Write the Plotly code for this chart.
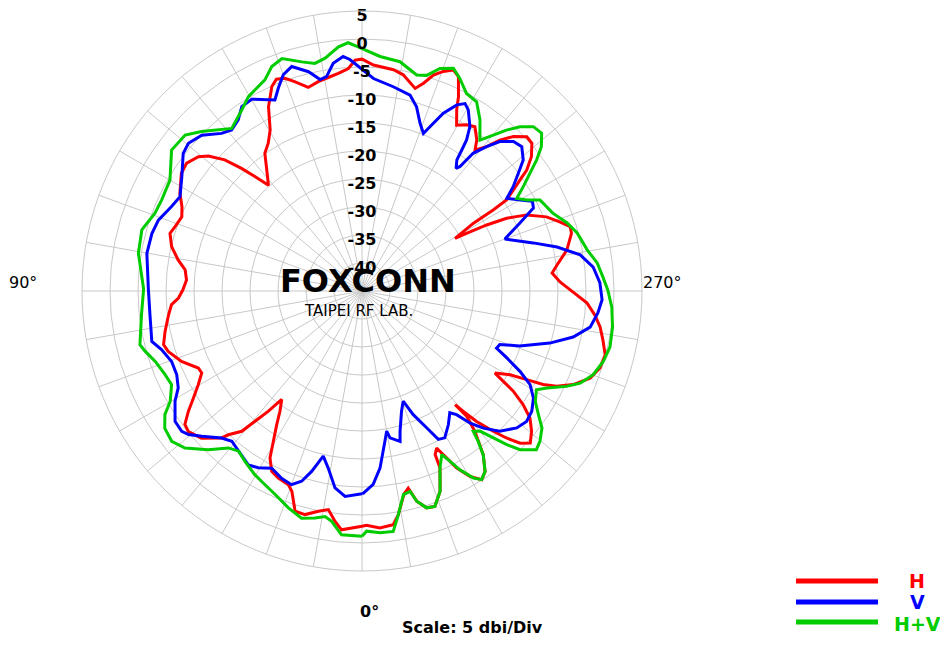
import plotly.graph_objects as go

# ---------------- data (angle in degrees, gain in dBi) ----------------
h_theta = [0, 4.9, 6.7, 8.75, 11.2, 14.3, 16.9, 19.3, 20.8, 24.1, 26.6, 28.85, 30.5, 32.55, 34.3,
           36.5, 37.9, 39.4, 40.6, 42.9, 43.7, 47.5, 51, 53, 55.3, 57.6, 60.2, 62.9, 64.8, 68.7,
           72.7, 74.9, 78.4, 83, 85.9, 87.8, 90.3, 93.6, 96.8, 99.6, 103.1, 106.7, 109, 112.4,
           115.1, 118.2, 123.1, 126.1, 129.4, 131.3, 133.7, 135.5, 136.9, 138.5, 141.8, 144.8,
           147.6, 150.3, 153.1, 156.2, 158, 160.1, 162.3, 165.2, 168.2, 171, 173.8, 176.5, 178.3,
           180, 182.9, 188.1, 190.8, 194.7, 196.5, 198.3, 200.3, 202.5, 204.2, 206.4, 207.6,
           209.7, 212.2, 214.5, 217.2, 218.7, 220.8, 222.4, 224.4, 226.9, 229, 231.6, 233.7,
           234.9, 236.3, 237.8, 238.3, 238.7, 240.5, 241.1, 242.1, 243.3, 245.2, 248.1, 250.7,
           252.8, 254.6, 258.7, 261.9, 264.6, 267.4, 270.3, 273, 275.9, 278.6, 281.5, 284.7,
           287.9, 290.9, 293.9, 296.1, 297.3, 298.3, 299.5, 301.7, 302.6, 303.5, 305.2, 307.1,
           309.6, 312.1, 313.9, 315.5, 316.9, 318.7, 319.9, 320.7, 320.1, 321.2, 323.5, 325.7,
           327.6, 329.8, 331.9, 333.1, 334.6, 335.9, 336.2, 338.7, 341.3, 343.4, 345.4, 346.8,
           348.3, 350.8, 352.4, 355.7, 358.9, 360]
h_gain = [-3.0, -2.2, -3.6, -5.5, -4.9, -3.8, -3.9, -7.1, -8.0, -8.4, -9.0, -10.95, -13.8, -16.7,
          -19.0, -20.9, -17.8, -14.9, -12.0, -9.95, -8.7, -6.1, -5.1, -5.4, -7.3, -9.35, -11.3,
          -12.85, -12.7, -10.4, -8.75, -8.3, -9.1, -10.2, -10.9, -12.2, -13.0, -13.6, -13.2, -11.7,
          -10.1, -9.2, -9.7, -10.2, -9.5, -8.1, -6.5, -6.25, -7.2, -8.5, -11.1, -14.3, -17.0,
          -19.8, -17.5, -14.9, -13.75, -11.9, -8.1, -5.1, -4.2, -4.6, -5.8, -7.4, -6.8, -6.4,
          -5.9, -5.2, -3.75, -3.6, -4.6, -5.1, -5.7, -7.6, -6.3, -4.4, -3.2, -2.3, -3.0, -6.25,
          -8.5, -10.9, -9.9, -9.4, -11.1, -12.7, -10.95, -8.5, -6.4, -4.7, -4.8, -6.4, -8.5,
          -10.5, -12.5, -14.5, -17.4, -21.7, -25.9, -23.7, -19.8, -16.1, -12.6, -9.5, -7.6,
          -6.1, -6.2, -7.7, -9.6, -10.9, -9.6, -7.3, -4.8, -3.2, -2.0, -1.1, -0.1, -0.35, -1.4,
          -3.75, -6.3, -8.6, -11.6, -14.6, -17.1, -15.05, -12.6, -9.8, -7.4, -5.7, -4.5, -5.8,
          -8.2, -10.7, -14.0, -16.9, -18.75, -15.8, -12.8, -8.6, -6.0, -5.1, -6.7, -9.2,
          -11.55, -13.95, -13.0, -10.5, -6.6, -4.4, -4.6, -6.2, -8.85, -8.0, -4.5, -2.9,
          -2.55, -3.15, -3.0]

v_theta = [0, 4.7, 7.8, 10.8, 13.2, 15.6, 17.6, 20, 23.25, 27.0, 30.4, 33.2, 37.6, 40.9, 43.7,
           47.8, 50.4, 52.1, 55.1, 59.5, 62.2, 65.7, 69.7, 73.7, 76.5, 83.6, 90.5, 99.9, 105.3,
           109.2, 113.9, 117.4, 122.4, 127.6, 130.4, 134.2, 138.3, 141, 144.1, 146.9, 150.1,
           155.5, 157.6, 160, 162.6, 166.3, 168.8, 170.6, 172.8, 175.4, 177, 180, 183.1, 188.7,
           193.8, 196.5, 199.1, 201.3, 202.5, 204.6, 207, 208.8, 210.4, 213.3, 214.7, 215.3,
           215.9, 217.5, 218.2, 218.9, 220.8, 222.7, 225.4, 227.9, 230.9, 233.0, 235.4, 237.4,
           240.1, 242.2, 244.2, 246.7, 250.0, 254.3, 257.3, 260.6, 264.1, 268, 272.1, 275.3,
           279, 282.3, 285.5, 289.2, 291.25, 293, 294.8, 297, 299.1, 302, 305.3, 308.4, 311.5,
           315.5, 318.5, 320.7, 322.6, 324.2, 327.1, 330.6, 332.8, 334.7, 337.5, 339.5, 341.8,
           344.85, 345.8, 349.2, 350, 351.3, 354.2, 356.7, 359.6, 360]
v_gain = [-8.8, -8.2, -9.5, -12.8, -14.7, -11.55, -9.35, -8.2, -8.6, -9.5, -8.4, -7.9, -8.9,
          -9.5, -8.7, -6.4, -4.8, -4.2, -4.3, -6.25, -7.9, -8.7, -8.75, -7.7, -6.4, -6.9, -6.85,
          -6.0, -6.1, -6.5, -7.8, -8.4, -6.9, -4.7, -4.3, -5.1, -7.3, -8.0, -7.3, -5.7, -5.5,
          -7.5, -5.8, -3.9, -3.0, -4.7, -6.5, -6.2, -4.0, -3.0, -3.6, -5.4, -7.0, -8.1, -9.0,
          -10.7, -13.3, -14.8, -13.2, -10.1, -7.7, -6.8, -7.5, -9.9, -12.2, -14.2, -16.1,
          -17.4, -16.7, -13.4, -10.95, -8.7, -7.0, -6.55, -7.9, -10.05, -12.2, -14.3, -12.4,
          -10.6, -11.0, -14.3, -17.85, -13.25, -9.3, -5.5, -3.5, -2.5, -2.1, -2.7, -3.75,
          -6.4, -10.2, -15.2, -18.6, -18.9, -16.5, -13.3, -10.65, -8.9, -7.85, -7.5, -8.1,
          -9.9, -12.3, -14.5, -17.2, -18.2, -16.6, -14.9, -15.2, -18.0, -21.1, -24.0, -22.4,
          -19.0, -17.3, -18.3, -19.6, -17.9, -13.2, -10.4, -8.9, -8.8]

hv_theta = [0, 4.8, 7.5, 9.3, 11.7, 14.9, 18.75, 23.1, 26.6, 30.2, 34.5, 37.6, 40.4, 44.1, 48.4,
            51.7, 55.2, 57.9, 60.1, 63.8, 67, 71.2, 74.5, 76.4, 83.9, 90.5, 99.6, 105.5, 110.6,
            114.4, 120, 126.5, 131.4, 134.8, 141.3, 146.4, 149.7, 155.3, 158.1, 161, 165.3,
            168.3, 171, 174.5, 176.8, 179.1, 184.4, 189.4, 194.2, 196.7, 199.3, 202.3, 204.7,
            207.9, 211.2, 214.6, 218, 220.1, 221.9, 223.9, 226.2, 228.7, 231.2, 233.1, 235,
            237.1, 239.1, 241.1, 242.9, 247.8, 251.65, 254.9, 259.7, 263.2, 266.7, 269.8,
            273.7, 278.2, 282.7, 286.2, 289.9, 292.9, 295, 297.7, 299.5, 302.5, 305, 307.3,
            310.2, 312.3, 315.1, 316.7, 318.2, 319.9, 321.6, 322.3, 323.5, 325.7, 327.6, 329.2,
            331.3, 332.7, 334, 336.2, 338.7, 341.3, 343.4, 345.4, 346.5, 348.5, 350.8, 352.6,
            355.7, 358.9, 360]
hv_gain = [-1.2, -1.3, -3.5, -4.2, -3.6, -3.0, -4.1, -5.5, -6.3, -7.0, -8.1, -8.9, -8.2, -5.5,
           -2.75, -1.7, -2.1, -3.45, -5.5, -7.1, -6.8, -6.0, -4.8, -4.2, -5.4, -6.0, -4.5, -4.2,
           -5.5, -5.7, -5.4, -2.7, -2.9, -4.6, -7.8, -6.2, -4.8, -3.5, -1.8, -1.1, -2.7, -3.5,
           -2.9, -1.2, -0.6, -1.4, -3.0, -3.5, -5.2, -4.8, -2.9, -2.0, -3.2, -5.1, -5.5, -7.9,
           -10.8, -8.6, -6.4, -4.3, -2.6, -2.3, -3.9, -6.0, -8.4, -10.7, -12.8, -11.4, -9.3,
           -8.2, -6.4, -5.2, -4.1, -2.7, -1.9, -1.1, -0.3, 0.2, 0.4, -0.1, -1.1, -2.7, -4.7,
           -7.7, -9.2, -8.3, -6.55, -4.6, -3.4, -2.9, -5.0, -7.3, -9.8, -12.3, -13.0, -11.1,
           -8.6, -6.0, -5.1, -6.1, -8.6, -10.8, -12.5, -10.5, -6.6, -4.4, -4.6, -6.2, -8.2,
           -7.9, -4.5, -1.7, -1.7, -2.1, -1.2]

radial_ticks = [5, 0, -5, -10, -15, -20, -25, -30, -35, -40]
radial_tick_labels = ["5", "0", "-5", "-10", "-15", "-20", "-25", "-30", "-35", "-40"]

series_names = ["H", "V", "H+V"]
series_colors = ["#ff0000", "#0000ff", "#00cc00"]

# ---------------- figure ----------------
OFF = 8                      # browser body margin
W, H = 948 - 2 * OFF, 645 - 2 * OFF
cx, cy, R = 362, 291, 280    # screen position / radius of the polar area
LABEL_DROP = 1.0             # radial labels sit slightly below their circle (in dB units)


def px(x):
    return (x - OFF) / W


def py(y):
    return 1 - (y - OFF) / H


fig = go.Figure()
for name, th, g, col in zip(series_names, [h_theta, v_theta, hv_theta],
                            [h_gain, v_gain, hv_gain], series_colors):
    fig.add_trace(go.Scatterpolar(theta=th, r=g, mode="lines", name=name,
                                  line=dict(color=col, width=3), showlegend=False))

fig.add_trace(go.Scatterpolar(theta=[180] * len(radial_ticks),
                              r=[t - LABEL_DROP for t in radial_ticks],
                              text=radial_tick_labels, mode="text",
                              textfont=dict(family="DejaVu Sans", size=16, color="#000000",
                                            weight="bold"),
                              textposition="middle center", cliponaxis=False,
                              showlegend=False, hoverinfo="skip"))

grid = "#c8c8c8"
fig.update_layout(
    width=W, height=H,
    margin=dict(l=0, r=0, t=0, b=0),
    paper_bgcolor="white",
    polar=dict(
        domain=dict(x=[px(cx - R), px(cx + R)], y=[py(cy + R), py(cy - R)]),
        bgcolor="white",
        angularaxis=dict(rotation=270, direction="clockwise", dtick=10,
                         showticklabels=False, ticks="", gridcolor=grid, gridwidth=1,
                         showline=True, linecolor=grid, linewidth=1),
        radialaxis=dict(range=[-45, 5], tickvals=radial_ticks, showticklabels=False,
                        ticks="", showline=False, gridcolor=grid, gridwidth=1),
    ),
    showlegend=False,
)


def note(x, y, text, size, color="black", bold=False):
    f = dict(family="DejaVu Sans", size=size, color=color)
    if bold:
        f["weight"] = "bold"
    return dict(x=px(x), y=py(y), xref="paper", yref="paper", text=text, showarrow=False,
                xanchor="center", yanchor="middle", font=f)


ann = [
    note(368, 281, "FOXCONN", 32, bold=True),
    note(358, 311, "TAIPEI RF LAB.", 15),
    note(23, 282, "90°", 16),
    note(662, 282, "270°", 16),
    note(369, 611, "0°", 16, bold=True),
    note(472, 627, "Scale: 5 dbi/Div", 16, bold=True),
]

shapes = []
legend_y = [581, 602, 622]
legend_tx = [917, 917, 917]
legend_ty = [581, 602, 624]
for name, col, ly, tx, ty in zip(series_names, series_colors, legend_y, legend_tx, legend_ty):
    shapes.append(dict(type="line", xref="paper", yref="paper", x0=px(796), x1=px(878),
                       y0=py(ly), y1=py(ly), line=dict(color=col, width=5)))
    ann.append(note(tx, ty, name, 19, color=col, bold=True))

fig.update_layout(annotations=ann, shapes=shapes)
fig.write_html("out.html")
